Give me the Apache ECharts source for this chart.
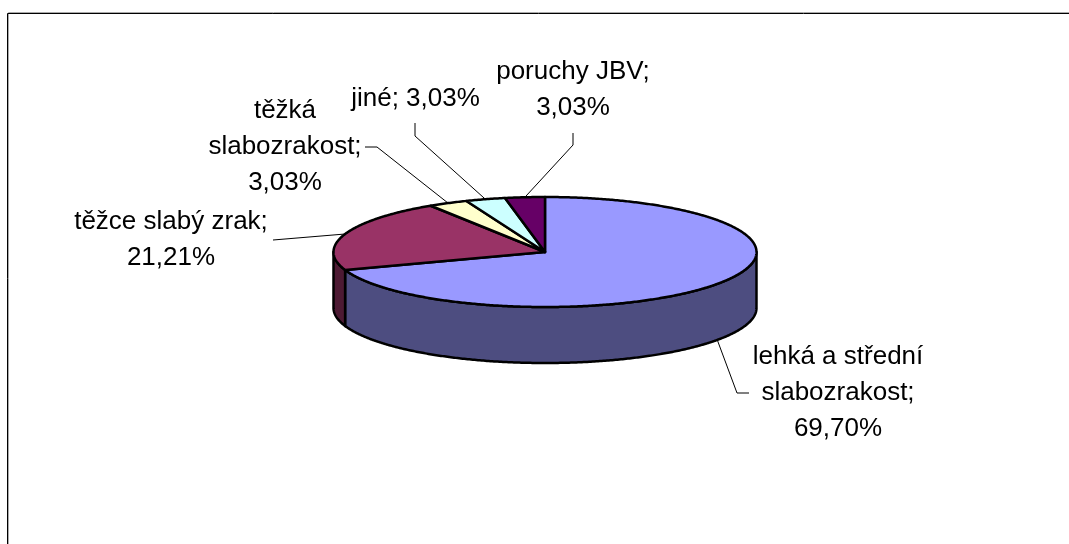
<!DOCTYPE html>
<html>
<head>
<meta charset="utf-8">
<style>
  html, body { margin: 0; height: 100%; background: #fff; }
  #main { width: 1069px; height: 544px; }
</style>
<script src="https://cdn.jsdelivr.net/npm/echarts@6/dist/echarts.min.js"></script>
</head>
<body>
<div id="main"></div>
<script>
// clockwise from 12 o'clock
const categories = ['lehká a střední\nslabozrakost', 'těžce slabý zrak', 'těžká\nslabozrakost', 'jiné', 'poruchy JBV'];
const values = [69.70, 21.21, 3.03, 3.03, 3.03];
const separators = ['\n', '\n', '\n', ' ', '\n'];

const topColors = ['#9999ff', '#993366', '#ffffcc', '#ccffff', '#660066'];
const wallColors = ['#4d4d80', '#4d1a33', '#808066', '#668080', '#330033'];

// label centre + first line y, then leader elbow points (anchor comes from the slice angle)
const labelPos = [[838, 339], [171, 204], [285, 93], [415.5, 81], [573, 54]];
const leaderBends = [
  [[737, 393], [749, 393]],
  [[273, 240]],
  [[377, 147], [365, 147]],
  [[415, 136], [415, 123]],
  [[573, 145], [573, 133]]
];

const cx = 545, cy = 252, rx = 211.5, ry = 55, depth = 56;
const total = values.reduce((a, b) => a + b, 0);

function rimPoint(deg, drop) {
  const t = deg * Math.PI / 180;
  return [cx + rx * Math.sin(t), cy - ry * Math.cos(t) + (drop || 0)];
}

function arc(from, to, drop) {
  const pts = [];
  const n = Math.max(2, Math.ceil((to - from) / 0.5));
  for (let i = 0; i <= n; i++) pts.push(rimPoint(from + (to - from) * i / n, drop));
  return pts;
}

const edge = { stroke: '#000', lineWidth: 2.5, lineJoin: 'round' };

function renderSlice(params, api) {
  const i = params.dataIndex;
  const value = api.value(0);
  let start = 0;
  for (let k = 0; k < i; k++) start += values[k] / total * 360;
  const end = start + value / total * 360;
  const children = [];

  // front wall, only the part of the rim facing the viewer
  const wallFrom = Math.max(start, 90), wallTo = Math.min(end, 270);
  if (wallTo > wallFrom) {
    const upper = arc(wallFrom, wallTo, 0);
    const lower = arc(wallFrom, wallTo, depth).reverse();
    children.push({
      type: 'polygon', z2: 1,
      shape: { points: upper.concat(lower) },
      style: Object.assign({ fill: wallColors[i] }, edge)
    });
  }

  children.push({
    type: 'polygon', z2: 2,
    shape: { points: [[cx, cy]].concat(arc(start, end, 0)) },
    style: Object.assign({ fill: topColors[i] }, edge)
  });

  // leader line
  const mid = (start + end) / 2;
  const front = mid > 90 && mid < 270;
  const anchor = rimPoint(mid, front ? depth : 0);
  children.push({
    type: 'polyline', z2: 3,
    shape: { points: [anchor].concat(leaderBends[i]) },
    style: { stroke: '#000', lineWidth: 1, fill: null }
  });

  const pct = value.toFixed(2).replace('.', ',') + '%';
  children.push({
    type: 'text', z2: 4,
    x: labelPos[i][0], y: labelPos[i][1],
    style: {
      text: categories[i] + ';' + separators[i] + pct,
      font: '26px "Liberation Sans", Arial, sans-serif',
      lineHeight: 36,
      fill: '#000',
      align: 'center',
      verticalAlign: 'top'
    }
  });

  return { type: 'group', children: children };
}

const chart = echarts.init(document.getElementById('main'), null, { renderer: 'canvas' });
chart.setOption({
  animation: false,
  backgroundColor: '#fff',
  graphic: [{
    type: 'polyline',
    silent: true,
    shape: { points: [[8.5, 544], [8.5, 12.5], [1069, 12.5]] },
    style: { stroke: '#aaa', lineWidth: 1, fill: null }
  }, {
    type: 'polyline',
    silent: true,
    shape: { points: [[7.5, 544], [7.5, 13.5], [1069, 13.5]] },
    style: { stroke: '#000', lineWidth: 1, fill: null }
  }],
  series: [{
    type: 'custom',
    coordinateSystem: 'none',
    silent: true,
    renderItem: renderSlice,
    data: values.map((v, i) => ({ name: categories[i], value: [v] }))
  }]
});
</script>
</body>
</html>
